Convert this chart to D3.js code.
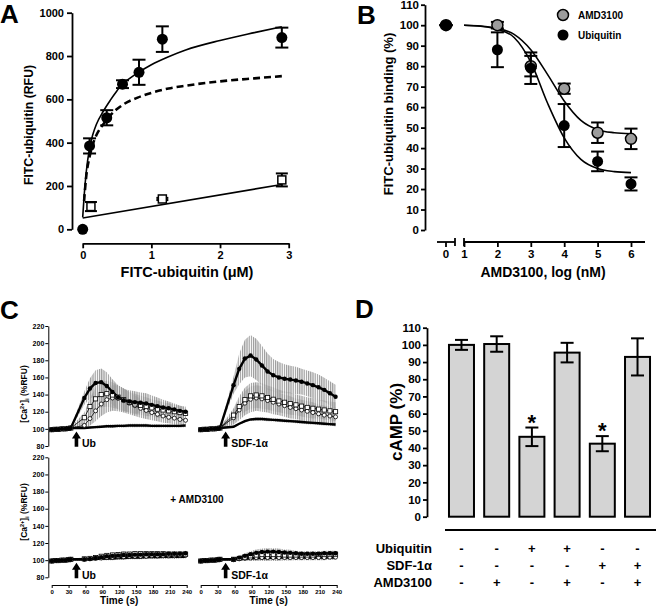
<!DOCTYPE html>
<html>
<head>
<meta charset="utf-8">
<script src="https://cdn.jsdelivr.net/npm/d3@7"></script>
<style>
body { margin: 0; background: #fff; }
svg { display: block; font-family: "Liberation Sans", Arial, Helvetica, sans-serif; font-weight: bold; }
</style>
</head>
<body>
<svg id="fig" width="656" height="607"></svg>
<script>
const FONT = "'Liberation Sans', Arial, Helvetica, sans-serif";

// ---------- Panel A: saturation binding
const aConc = [0, 0.1, 0.35, 0.58, 0.82, 1.16, 2.9];
const aTotal = [0, 385, 515, 670, 725, 878, 885];
const aTotalErr = [0, 35, 35, 18, 58, 59, 46];
const aNsConc = [0.12, 1.16, 2.9];
const aNs = [105, 140, 228];
const aNsErr = [21, 5, 30];
// fitted curves
const aTotalFit = [[0,55],[0.02,150],[0.05,260],[0.1,375],[0.15,440],[0.2,485],[0.3,545],[0.4,595],[0.5,640],[0.57,668],[0.7,700],[0.8,722],[1.0,760],[1.25,797],[1.5,828],[2.0,872],[2.5,908],[2.9,935]];
const aSpecFit = [[0.02,130],[0.05,240],[0.1,335],[0.15,395],[0.2,435],[0.3,485],[0.4,525],[0.5,555],[0.6,578],[0.8,608],[1.0,630],[1.25,650],[1.5,663],[2.0,683],[2.5,697],[2.9,707]];
const aNsFit = [[0,52],[2.9,207]];

// ---------- Panel B: competition
const bLog = [0, 2, 3, 4, 5, 6];
const bAmd = [100, 100, 80, 69, 47.5, 44.5];
const bAmdErr = [0, 1.6, 5, 2.5, 5, 5];
const bUbq = [100, 88, 79, 51, 33.5, 22.5];
const bUbqErr = [0, 8.5, 7.7, 10.5, 4.8, 3.2];
const bAmdFit = [[1,100],[1.5,99.6],[2,98.5],[2.5,95.5],[3,88],[3.5,76],[4,63],[4.5,53.5],[5,49],[5.5,47.5],[6,47]];
const bUbqFit = [[1,100],[1.5,99.5],[2,98],[2.5,94],[3,82],[3.5,62],[4,45],[4.5,34.5],[5,30],[5.5,28.5],[6,28]];

// ---------- Panel C: calcium traces
const cBaseT = [0, 6, 12, 18, 24, 30, 34];
const cBaseVals = [99, 99.5, 99.5, 100, 100, 100.5, 101];
const cBaseErr = [1, 1, 1, 1, 1, 1, 1];
const cRespT = [58, 68, 78, 88, 98, 108, 118, 128, 138, 148, 158, 168, 178, 188, 198, 208, 218, 228, 238];

const ubFilled = [136,147,153.5,154.5,150,143,137,133.5,132,131,130.5,129.5,128,126.5,125,124,122.5,121,120];
const ubFilledErr = [8,12,15,16,16,15,14,13,13,13,12,12,11,10,9,8,7,6,5];
const ubSquare = [113,126,135,140,141,139.5,137,134,131,129,127.5,126,124.5,123,122,121,120,119,118];
const ubSquareErr = [6,10,13,15,15,15,14,13,12,12,11,11,10,10,9,9,8,8,8];
const ubCircle = [104,112,121,129,134,136,135.5,133,130,127,124,121.5,119,117,115,113.5,112.5,111,110];
const ubCircleErr = [4,8,12,14,15,15,15,14,13,12,11,10,9,8,8,7,7,6,6];
const ubLow = [101,101.5,102,102.5,103,103,103.5,103.5,104,104,104,104,103.5,103.5,103.5,103.5,103.5,103.5,104];

const sdfFilled = [151,170,182,185.5,181,174,167,162.5,160,158.5,157.5,156.5,155,153,151,148.5,145.5,141.5,137.5];
const sdfFilledErr = [10,18,22,24,24,23,21,19,18,17,16,16,15,15,15,15,14,14,14];
const sdfSquare = [116,126,134,138.5,139.5,138.5,136.5,134.5,132.5,131,129.5,128,126.5,125,124,123,122,121,120];
const sdfSquareErr = [8,12,14,15,15,15,14,14,13,13,13,12,12,12,12,11,11,11,11];
const sdfCircle = [113,122,130,134.5,136,135,133,131,129,127,125,123.5,122,120.5,119,117.5,116,115,114];
const sdfCircleErr = [8,12,14,15,15,15,14,14,13,13,13,12,12,12,12,11,11,11,11];
const sdfLow = [102.5,106,109,111,111.5,111.5,111,110.5,110,109.5,109,108.5,108,107.5,107,106.5,106,105.5,105];

const ubAmdFilled = [101,101.5,102.5,103.5,104.5,105,105.5,106,106,106.5,106.5,107,107,107,107,107.5,107.5,107.5,108];
const ubAmdSquare = [101.5,102,103,104.5,105.5,106,106.5,107,107,107.5,107.5,107.5,107.5,107.5,107.5,107,107,107,107];
const ubAmdCircle = [101,101.5,102,102.5,103,103.5,104,104,104.5,104.5,104.5,104.5,105,105,105,105,105,105.5,105.5];
const ubAmdLow = [101,101,101.5,101.5,102,102,102.5,102.5,103,103,103,103.5,103.5,103.5,104,104,104,104,104];
const ubAmdErr = [1.5,2,2,2.5,2.5,3,3,3,3,3,3,3,3,3,3,3,3,3,3];

const sdfAmdFilled = [101,103,105,107,108.5,109.5,110,110,109.5,109,108.5,108,107.5,107.5,107.5,107.5,108,108,108];
const sdfAmdSquare = [101,102,103.5,105,106,106.5,106.5,106.5,106.5,106,106,106,106,106,106,106.5,106.5,107,107];
const sdfAmdCircle = [100.5,101.5,102,102.5,103,103,103,103,103,103,103,103,103,103,103,103,103,103.5,103.5];
const sdfAmdLow = [101,101.5,102,102,102.5,102.5,102.5,103,103,103,103,103,103,103,103,103,103,103,103];
const sdfAmdErr = [1.5,2.5,3,3.5,4,4,4,4,4,3.5,3.5,3,3,3,3,3,3,3,3];
const lowErr = [1,1,1.5,1.5,2,2,2,2,2,2,2,2,2,2,2,2,2,2,2];

const cTicksY = [80, 100, 120, 140, 160, 180, 200, 220];
const cTicksX = [0, 30, 60, 90, 120, 150, 180, 210, 240];

// ---------- Panel D: cAMP
const dVals = [100, 100.5, 46.5, 95.5, 42.5, 93];
const dErr = [2.9, 4.5, 5.4, 5.7, 4.4, 10.8];
const dStar = [false, false, true, false, true, false];
const dRows = ["Ubiquitin", "SDF-1\u03b1", "AMD3100"];
const dSigns = [
  ["-", "-", "+", "+", "-", "-"],
  ["-", "-", "-", "-", "+", "+"],
  ["-", "+", "-", "+", "-", "+"]
];

const svg = d3.select("#fig");

function styleAxis(g, size, sw) {
  g.attr("font-family", FONT).attr("font-size", size).attr("font-weight", "bold");
  g.selectAll("path, line").attr("stroke", "#000").attr("stroke-width", sw);
  g.selectAll("text").attr("fill", "#000");
}

function errBar(g, x, y1, y2, half, sw) {
  g.append("line").attr("x1", x).attr("x2", x).attr("y1", y1).attr("y2", y2).attr("stroke", "#000").attr("stroke-width", sw);
  g.append("line").attr("x1", x - half).attr("x2", x + half).attr("y1", y1).attr("y2", y1).attr("stroke", "#000").attr("stroke-width", sw);
  g.append("line").attr("x1", x - half).attr("x2", x + half).attr("y1", y2).attr("y2", y2).attr("stroke", "#000").attr("stroke-width", sw);
}

function panelLetter(x, y, s) {
  svg.append("text").attr("x", x).attr("y", y).attr("font-size", 26).text(s);
}

// ====================== A ======================
{
  const x = d3.scaleLinear().domain([0, 3]).range([82.7, 288.7]);
  const y = d3.scaleLinear().domain([0, 1000]).range([229.3, 12.7]);
  const g = svg.append("g");

  g.append("g").attr("transform", "translate(72,0)")
    .call(d3.axisLeft(y).tickValues([0, 200, 400, 600, 800, 1000]).tickSize(5).tickSizeOuter(0).tickPadding(3).tickFormat(d3.format("d")))
    .call(a => styleAxis(a, 11, 1.8));
  g.append("g").attr("transform", "translate(0,243.3)")
    .call(d3.axisBottom(x).tickValues([0, 1, 2, 3]).tickSize(5).tickSizeOuter(0).tickPadding(3).tickFormat(d3.format("d")))
    .call(a => styleAxis(a, 11, 1.8));

  const line = d3.line().x(d => x(d[0])).y(d => y(d[1])).curve(d3.curveMonotoneX);
  g.append("path").attr("d", line(aSpecFit)).attr("fill", "none").attr("stroke", "#000").attr("stroke-width", 2.6).attr("stroke-dasharray", "7,4");
  g.append("path").attr("d", line(aTotalFit)).attr("fill", "none").attr("stroke", "#000").attr("stroke-width", 1.6);
  g.append("path").attr("d", line(aNsFit)).attr("fill", "none").attr("stroke", "#000").attr("stroke-width", 1.6);

  aNsConc.forEach((c, i) => errBar(g, x(c), y(aNs[i] + aNsErr[i]), y(aNs[i] - aNsErr[i]), 6, 2));
  g.selectAll(".sq").data(aNsConc).join("rect")
    .attr("x", (d) => x(d) - 4).attr("y", (d, i) => y(aNs[i]) - 4)
    .attr("width", 8).attr("height", 8).attr("fill", "#fff").attr("stroke", "#000").attr("stroke-width", 1.5);

  aConc.forEach((c, i) => { if (aTotalErr[i] > 0) errBar(g, x(c), y(aTotal[i] + aTotalErr[i]), y(aTotal[i] - aTotalErr[i]), 6.5, 2); });
  g.selectAll(".dot").data(aConc).join("circle")
    .attr("cx", d => x(d)).attr("cy", (d, i) => y(aTotal[i])).attr("r", 5.5).attr("fill", "#000");

  g.append("text").attr("x", 187).attr("y", 277).attr("text-anchor", "middle").attr("font-size", 14.5).text("FITC-ubiquitin (\u03bcM)");
  g.append("text").attr("transform", "translate(33,125) rotate(-90)").attr("text-anchor", "middle").attr("font-size", 12.3).text("FITC-ubiquitin (RFU)");
  panelLetter(0, 23, "A");
}

// ====================== B ======================
{
  const x = d3.scaleLinear().domain([1, 6]).range([464, 631]);
  const x0 = 446;
  const px = v => v === 0 ? x0 : x(v);
  const y = d3.scaleLinear().domain([0, 110]).range([230, 4.7]);
  const g = svg.append("g");

  g.append("g").attr("transform", "translate(425,0)")
    .call(d3.axisLeft(y).tickValues(d3.range(0, 111, 10)).tickSize(4).tickSizeOuter(0).tickPadding(2))
    .call(a => styleAxis(a, 11.5, 1.8));
  // broken x axis
  const axY = 242;
  g.append("line").attr("x1", 437).attr("x2", 455).attr("y1", axY).attr("y2", axY).attr("stroke", "#000").attr("stroke-width", 1.8);
  g.append("line").attr("x1", 455).attr("x2", 455).attr("y1", axY - 4).attr("y2", axY + 4).attr("stroke", "#000").attr("stroke-width", 1.8);
  g.append("g").attr("transform", `translate(0,${axY})`)
    .call(d3.axisBottom(x).tickValues([1, 2, 3, 4, 5, 6]).tickSize(5).tickSizeOuter(0).tickPadding(3).tickFormat(d3.format("d")))
    .call(a => styleAxis(a, 11.5, 1.8))
    .call(a => a.select(".domain").attr("d", `M${x(1)},0H645`));
  g.append("line").attr("x1", x(1)).attr("x2", x(1)).attr("y1", axY - 4).attr("y2", axY + 4).attr("stroke", "#000").attr("stroke-width", 1.8);
  g.append("line").attr("x1", x0).attr("x2", x0).attr("y1", axY).attr("y2", axY + 5).attr("stroke", "#000").attr("stroke-width", 1.8);
  g.append("text").attr("x", x0).attr("y", axY + 16).attr("text-anchor", "middle").attr("font-size", 11.5).text("0");

  const line = d3.line().x(d => x(d[0])).y(d => y(d[1])).curve(d3.curveMonotoneX);
  g.append("path").attr("d", line(bAmdFit)).attr("fill", "none").attr("stroke", "#000").attr("stroke-width", 1.6);
  g.append("path").attr("d", line(bUbqFit)).attr("fill", "none").attr("stroke", "#000").attr("stroke-width", 1.6);

  bLog.forEach((v, i) => errBar(g, px(v), y(bAmd[i] + bAmdErr[i]), y(bAmd[i] - bAmdErr[i]), 6.5, 2));
  g.selectAll(".amd").data(bLog).join("circle")
    .attr("cx", d => px(d)).attr("cy", (d, i) => y(bAmd[i])).attr("r", 5.5)
    .attr("fill", "#9c9c9c").attr("stroke", "#000").attr("stroke-width", 1.5);
  bLog.forEach((v, i) => errBar(g, px(v), y(bUbq[i] + bUbqErr[i]), y(bUbq[i] - bUbqErr[i]), 6.5, 2));
  g.selectAll(".ubq").data(bLog).join("circle")
    .attr("cx", d => px(d)).attr("cy", (d, i) => y(bUbq[i])).attr("r", 5.5).attr("fill", "#000");

  // legend
  g.append("circle").attr("cx", 563).attr("cy", 15).attr("r", 5.5).attr("fill", "#9c9c9c").attr("stroke", "#000").attr("stroke-width", 1.5);
  g.append("text").attr("x", 578).attr("y", 19).attr("font-size", 10).text("AMD3100");
  g.append("circle").attr("cx", 563).attr("cy", 35).attr("r", 5.5).attr("fill", "#000");
  g.append("text").attr("x", 578).attr("y", 39).attr("font-size", 10).text("Ubiquitin");

  g.append("text").attr("x", 543).attr("y", 277).attr("text-anchor", "middle").attr("font-size", 14).text("AMD3100, log (nM)");
  g.append("text").attr("transform", "translate(393,114) rotate(-90)").attr("text-anchor", "middle").attr("font-size", 13).text("FITC-ubiquitin binding (%)");
  panelLetter(357, 24, "B");
}

// ====================== C ======================
{
  const defs = svg.append("defs");
  defs.append("pattern").attr("id", "stripes").attr("patternUnits", "userSpaceOnUse")
    .attr("width", 2.2).attr("height", 4)
    .append("rect").attr("width", 1.2).attr("height", 4).attr("fill", "#999");

  const plots = [
    { x: [51.7, 186.7], y: [446, 326], series: [
      { v: ubLow, e: lowErr, k: "low" }, { v: ubCircle, e: ubCircleErr, k: "circle" },
      { v: ubSquare, e: ubSquareErr, k: "square" }, { v: ubFilled, e: ubFilledErr, k: "filled" }] },
    { x: [200.7, 336.7], y: [446, 326], series: [
      { v: sdfLow, e: lowErr, k: "low" }, { v: sdfCircle, e: sdfCircleErr, k: "circle" },
      { v: sdfSquare, e: sdfSquareErr, k: "square" }, { v: sdfFilled, e: sdfFilledErr, k: "filled" }] },
    { x: [51.7, 186.7], y: [577.3, 457.3], series: [
      { v: ubAmdLow, e: lowErr, k: "low" }, { v: ubAmdCircle, e: ubAmdErr, k: "circle" },
      { v: ubAmdSquare, e: ubAmdErr, k: "square" }, { v: ubAmdFilled, e: ubAmdErr, k: "filled" }] },
    { x: [200.7, 336.7], y: [577.3, 457.3], series: [
      { v: sdfAmdLow, e: lowErr, k: "low" }, { v: sdfAmdCircle, e: sdfAmdErr, k: "circle" },
      { v: sdfAmdSquare, e: sdfAmdErr, k: "square" }, { v: sdfAmdFilled, e: sdfAmdErr, k: "filled" }] }
  ];

  plots.forEach((p, pi) => {
    const x = d3.scaleLinear().domain([0, 240]).range(p.x);
    const y = d3.scaleLinear().domain([80, 220]).range(p.y);
    const g = svg.append("g");
    const data = p.series.map(s => cBaseT.map((t, i) => ({ t, v: cBaseVals[i], e: cBaseErr[i] }))
      .concat(cRespT.map((t, i) => ({ t, v: s.v[i], e: s.e[i] }))));

    const area = d3.area().x(d => x(d.t)).y0(d => y(d.v - d.e)).y1(d => y(d.v + d.e));
    data.forEach(d => g.append("path").attr("d", area(d)).attr("fill", "url(#stripes)"));

    const line = d3.line().x(d => x(d.t)).y(d => y(d.v));
    data.forEach((d, si) => {
      const k = p.series[si].k;
      g.append("path").attr("d", line(d)).attr("fill", "none").attr("stroke", "#000")
        .attr("stroke-width", (k === "filled" || k === "low") ? 2.4 : 0.8);
    });
    data.forEach((d, si) => {
      const k = p.series[si].k;
      if (k === "filled") {
        g.selectAll(null).data(d).join("circle").attr("cx", e => x(e.t)).attr("cy", e => y(e.v)).attr("r", 2.2).attr("fill", "#000");
      } else if (k === "circle") {
        g.selectAll(null).data(d).join("circle").attr("cx", e => x(e.t)).attr("cy", e => y(e.v)).attr("r", 2)
          .attr("fill", "#fff").attr("stroke", "#000").attr("stroke-width", 0.8);
      } else if (k === "square") {
        g.selectAll(null).data(d).join("rect").attr("x", e => x(e.t) - 2.1).attr("y", e => y(e.v) - 2.1)
          .attr("width", 4.2).attr("height", 4.2).attr("fill", "#fff").attr("stroke", "#000").attr("stroke-width", 0.8);
      }
    });

    // left y axes
    if (pi === 0 || pi === 2) {
      g.append("g").attr("transform", "translate(48.3,0)")
        .call(d3.axisLeft(y).tickValues(cTicksY).tickSize(3).tickSizeOuter(0).tickPadding(1))
        .call(a => styleAxis(a, 7, 1));
      const cy = pi === 0 ? 394 : 512;
      const t = g.append("text").attr("transform", `translate(27,${cy}) rotate(-90)`).attr("text-anchor", "middle").attr("font-size", 8.5);
      t.append("tspan").text("[Ca");
      t.append("tspan").attr("font-size", 5.5).attr("dy", -3.5).text("2+");
      t.append("tspan").attr("dy", 3.5).text("]");
      t.append("tspan").attr("font-size", 5.5).attr("dy", 2).text("i");
      t.append("tspan").attr("dy", -2).text(" (%RFU)");
    }
    // bottom x axes
    if (pi >= 2) {
      g.append("g").attr("transform", "translate(0,585)")
        .call(d3.axisBottom(x).tickValues(cTicksX).tickSize(3).tickSizeOuter(0).tickPadding(1.5))
        .call(a => styleAxis(a, 6, 1));
      g.append("text").attr("x", (p.x[0] + p.x[1]) / 2).attr("y", 604).attr("text-anchor", "middle").attr("font-size", 10).text("Time (s)");
    }

    // addition arrow
    const ax = x(44), yb = y(79), yt = y(97);
    g.append("path")
      .attr("d", `M${ax - 1.8},${yb}V${yt + 7}H${ax - 4.5}L${ax},${yt}L${ax + 4.5},${yt + 7}H${ax + 1.8}V${yb}Z`)
      .attr("fill", "#000");
    g.append("text").attr("x", ax + 5.5).attr("y", yb + 0.5).attr("font-size", 10.5)
      .text(pi % 2 === 0 ? "Ub" : "SDF-1\u03b1");
  });

  svg.append("text").attr("x", 197).attr("y", 503).attr("text-anchor", "middle").attr("font-size", 10).text("+ AMD3100");
  panelLetter(0, 319, "C");
}

// ====================== D ======================
{
  const x = d3.scaleBand().domain(d3.range(dVals.length)).range([443.7, 655.3]).paddingInner(0.29).paddingOuter(0.15);
  const y = d3.scaleLinear().domain([0, 110]).range([516.7, 327.7]);
  const g = svg.append("g");

  g.append("g").attr("transform", "translate(427,0)")
    .call(d3.axisLeft(y).tickValues(d3.range(0, 111, 10)).tickSize(4).tickSizeOuter(0).tickPadding(2))
    .call(a => styleAxis(a, 11.5, 1.8));

  g.selectAll(".bar").data(dVals).join("rect")
    .attr("x", (d, i) => x(i)).attr("y", d => y(d))
    .attr("width", x.bandwidth()).attr("height", d => y(0) - y(d))
    .attr("fill", "#d4d4d4").attr("stroke", "#000").attr("stroke-width", 2);

  dVals.forEach((v, i) => {
    const cx = x(i) + x.bandwidth() / 2;
    errBar(g, cx, y(v + dErr[i]), y(v - dErr[i]), 6.5, 2);
    if (dStar[i]) g.append("text").attr("x", cx).attr("y", y(v + dErr[i]) + 2).attr("text-anchor", "middle").attr("font-size", 22).text("*");
  });

  g.append("line").attr("x1", 445).attr("x2", 656).attr("y1", 530).attr("y2", 530).attr("stroke", "#000").attr("stroke-width", 2);

  const rowY = [553, 570, 587];
  dRows.forEach((r, ri) => {
    g.append("text").attr("x", 432).attr("y", rowY[ri]).attr("text-anchor", "end").attr("font-size", 13).text(r);
    dSigns[ri].forEach((s, i) => {
      g.append("text").attr("x", x(i) + x.bandwidth() / 2).attr("y", rowY[ri]).attr("text-anchor", "middle").attr("font-size", 13).text(s);
    });
  });

  g.append("text").attr("transform", "translate(402,422) rotate(-90)").attr("text-anchor", "middle").attr("font-size", 17).text("cAMP (%)");
  panelLetter(355, 318, "D");
}
</script>
</body>
</html>
